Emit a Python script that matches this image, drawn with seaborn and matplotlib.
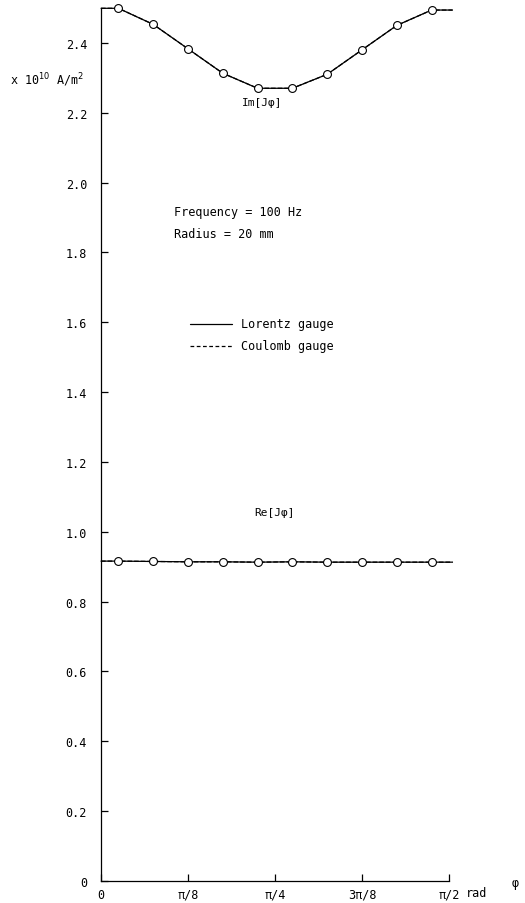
import numpy as np
import pandas as pd
import matplotlib
matplotlib.use("Agg")
import matplotlib.pyplot as plt
import seaborn as sns

# sample angles (rad): 4.5 deg, then every 9 deg
phi_pts = [np.deg2rad(d) for d in [4.5, 13.5, 22.5, 31.5, 40.5, 49.5, 58.5, 67.5, 76.5, 85.5]]
im_vals = [2.499, 2.453, 2.383, 2.313, 2.270, 2.270, 2.310, 2.380, 2.450, 2.494]
re_vals = [0.916, 0.915, 0.914, 0.914, 0.913, 0.914, 0.913, 0.913, 0.913, 0.913]

# curves run flat out to the axis ends
phi_ends = [0.0, np.pi / 2 * 1.01]

xticks = [0, np.pi / 8, np.pi / 4, 3 * np.pi / 8, np.pi / 2]
xticklabels = ["0", "π/8", "π/4", "3π/8", "π/2"]
yticks = [0, 0.2, 0.4, 0.6, 0.8, 1.0, 1.2, 1.4, 1.6, 1.8, 2.0, 2.2, 2.4]
yticklabels = ["0"] + ["%.1f" % v for v in yticks[1:]]

sns.set_style("white")
plt.rcParams["font.family"] = ["DejaVu Sans Mono", "DejaVu Sans"]
plt.rcParams["font.size"] = 8.5
plt.rcParams["text.color"] = "black"
plt.rcParams["xtick.color"] = "black"
plt.rcParams["ytick.color"] = "black"

line_phi = [phi_ends[0]] + phi_pts + [phi_ends[1]]
lines = pd.DataFrame({
    "phi": line_phi * 2,
    "J": [im_vals[0]] + im_vals + [im_vals[-1]] + [re_vals[0]] + re_vals + [re_vals[-1]],
    "part": ["Im"] * len(line_phi) + ["Re"] * len(line_phi),
})
pts = pd.DataFrame({
    "phi": phi_pts * 2,
    "J": im_vals + re_vals,
    "part": ["Im"] * len(phi_pts) + ["Re"] * len(phi_pts),
})

fig = plt.figure(figsize=(5.25, 9.04), dpi=100)
ax = fig.add_axes([101 / 525, 1 - 882 / 904, 348 / 525, 872 / 904])

# Lorentz (solid) and Coulomb (dashed) coincide at this scale
sns.lineplot(data=lines, x="phi", y="J", units="part", estimator=None,
             color="black", lw=0.9, ax=ax, clip_on=False)
sns.lineplot(data=lines, x="phi", y="J", units="part", estimator=None,
             color="black", lw=0.9, ls="--", ax=ax, clip_on=False)
sns.scatterplot(data=pts, x="phi", y="J", marker="o", s=32, facecolor="white",
                edgecolor="black", linewidth=0.8, ax=ax, zorder=5, clip_on=False)

ax.set_xlim(0, np.pi / 2)
ax.set_ylim(0, 2.497)
ax.set_xticks(xticks)
ax.set_xticklabels(xticklabels)
ax.set_yticks(yticks)
ax.set_yticklabels(yticklabels)
ax.tick_params(left=True, bottom=True, direction="in", length=5, width=0.9,
               color="black", labelcolor="black")
ax.tick_params(axis="y", pad=10)
ax.tick_params(axis="x", pad=5)
ax.set_xlabel("")
ax.set_ylabel("")
for s in ["top", "right"]:
    ax.spines[s].set_visible(False)
for s in ["left", "bottom"]:
    ax.spines[s].set_color("black")
    ax.spines[s].set_linewidth(0.9)

ax.text(0.727, 2.231, "Im[Jφ]", fontsize=8, ha="center", va="center")
ax.text(0.781, 1.057, "Re[Jφ]", fontsize=8, ha="center", va="center")
ax.text(0.33, 1.916, "Frequency = 100 Hz", va="center")
ax.text(0.33, 1.853, "Radius = 20 mm", va="center")

# hand drawn legend
ax.plot([0.402, 0.591], [1.595, 1.595], color="black", lw=0.9)
ax.plot([0.402, 0.591], [1.532, 1.532], color="black", lw=0.9, ls=(0, (3, 2)))
ax.text(0.632, 1.595, "Lorentz gauge", va="center")
ax.text(0.632, 1.532, "Coulomb gauge", va="center")

fig.text(10 / 525, 1 - 80 / 904, "x 10$^{10}$ A/m$^2$", va="center")
fig.text(466 / 525, 1 - 894 / 904, "rad", va="center")
fig.text(512 / 525, 1 - 884 / 904, "φ", va="center")

fig.savefig("out.png", dpi=100)
